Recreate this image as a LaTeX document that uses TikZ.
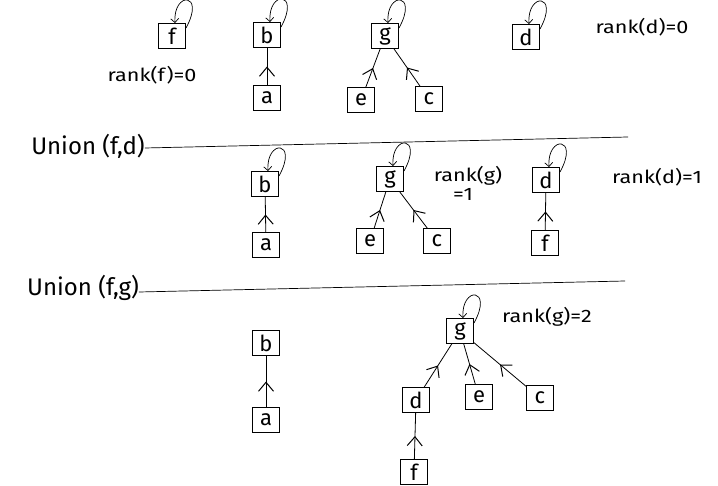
\documentclass[tikz,border=0pt]{standalone}
\usepackage{fontspec}
\setmainfont{Fira Sans}
\usetikzlibrary{arrows.meta,decorations.markings}
\tikzset{
  nd/.style={draw, line width=0.9pt, minimum width=27pt, minimum height=25pt, inner sep=0pt, font=\fontsize{22}{22}\selectfont},
  tree/.style={line width=0.8pt, postaction={decorate}, decoration={markings, mark=at position 0.5 with {\arrow{Straight Barb[length=9pt,width=15pt,line width=1pt]}}}},
  selfloop/.style={line width=0.7pt, -{Straight Barb[length=4pt,width=8pt]}},
  lbl/.style={font=\fontsize{18}{18}\selectfont, inner sep=0pt},
  hdr/.style={font=\fontsize{24}{24}\selectfont, inner sep=0pt},
  sepline/.style={line width=0.7pt}
}
\newcommand\myloop[1]{\draw[selfloop] ([yshift=-5pt]#1.north east) .. controls +(20,-36) and +(-2,-32) .. ([xshift=3pt]#1.north);}
\newcommand\wide[1]{\scalebox{1.2}[1]{#1}}
\begin{document}
\begin{tikzpicture}[x=1pt,y=-1pt]
\useasboundingbox (0,0) rectangle (718,486);
% ---- row 1
\node[nd] (f1) at (172,36) {f};
\node[nd] (b1) at (267,35) {b};
\node[nd] (a1) at (267,98) {a};
\node[nd] (g1) at (385,36) {g};
\node[nd] (e1) at (361,100) {e};
\node[nd] (c1) at (429,99) {c};
\node[nd] (d1) at (526,37) {d};
\node[lbl] (rf1) at (152,75) {\wide{rank(f)=0}};
\node[lbl] (rd1) at (642,27) {\wide{rank(d)=0}};
\myloop{f1}\myloop{b1}\myloop{g1}\myloop{d1}
\draw[tree] (a1) -- (b1);
\draw[tree] (e1) -- (g1);
\draw[tree] (c1) -- (g1);
% ---- separator 1
\node[hdr] (u1) at (88,146) {Union (f,d)};
\coordinate (l1e) at (628,137);
\draw[sepline] ([yshift=-2pt]u1.east) -- (l1e);
% ---- row 2
\node[nd] (b2) at (265,184) {b};
\node[nd] (a2) at (266,245) {a};
\node[nd] (g2) at (390,179) {g};
\node[nd] (e2) at (370,241) {e};
\node[nd] (c2) at (437,241) {c};
\node[nd] (d2) at (546,180) {d};
\node[nd] (f2) at (545,243) {f};
\node[lbl] (rg2) at (468,176) {\wide{rank(g)}};
\node[lbl] (rg2b) at (463,194) {\wide{=1}};
\node[lbl] (rd2) at (657,177) {\wide{rank(d)=1}};
\myloop{b2}\myloop{g2}\myloop{d2}
\draw[tree] (a2) -- (b2);
\draw[tree] (e2) -- (g2);
\draw[tree] (c2) -- (g2);
\draw[tree] (f2) -- (d2);
% ---- separator 2
\node[hdr] (u2) at (83,288) {Union (f,g)};
\coordinate (l2e) at (625,281);
\draw[sepline] ([yshift=-4pt]u2.east) -- (l2e);
% ---- row 3
\node[nd] (b3) at (266,343) {b};
\node[nd] (a3) at (266,420) {a};
\node[nd] (g3) at (460,331) {g};
\node[nd] (d3) at (416,400) {d};
\node[nd] (e3) at (479,397) {e};
\node[nd] (c3) at (540,398) {c};
\node[nd] (f3) at (414,472) {f};
\node[lbl] (rg3) at (547,317) {\wide{rank(g)=2}};
\myloop{g3}
\draw[tree] (a3) -- (b3);
\draw[tree] (d3) -- (g3);
\draw[tree] (e3) -- (g3);
\draw[tree] (c3) -- (g3);
\draw[tree] (f3) -- (d3);
\end{tikzpicture}
\end{document}
